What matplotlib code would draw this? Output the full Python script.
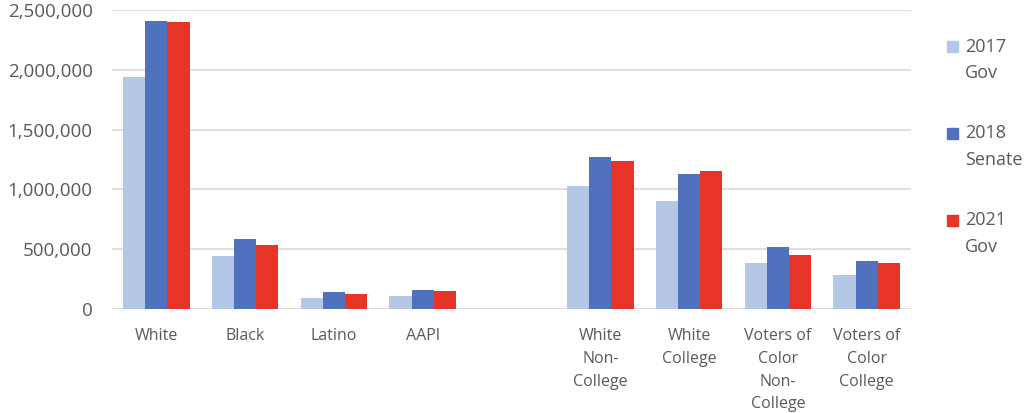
import matplotlib
matplotlib.use("Agg")
import matplotlib.pyplot as plt
from matplotlib.patches import Rectangle
from matplotlib.ticker import FuncFormatter
import numpy as np

categories = ["White", "Black", "Latino", "AAPI",
              "White\nNon-\nCollege", "White\nCollege",
              "Voters of\nColor\nNon-\nCollege", "Voters of\nColor\nCollege"]
series_names = ["2017\nGov", "2018\nSenate", "2021\nGov"]
v2017 = [1937000, 446000, 94000, 109000, 1026000, 900000, 382000, 287000]
v2018 = [2408000, 588000, 142000, 156000, 1271000, 1126000, 516000, 399000]
v2021 = [2402000, 535000, 128000, 148000, 1240000, 1154000, 452000, 387000]
yticks = [0, 500000, 1000000, 1500000, 2000000, 2500000]

colors = ["#B4C7E7", "#4F71BE", "#E83426"]
text_color = "#595959"

fig = plt.figure(figsize=(10.24, 4.13), dpi=100)
ax = fig.add_axes([112/1024, 1-309/413, (911-112)/1024, (309-10)/413])

# slot positions: empty slot between AAPI and the education groups
x = np.array([0, 1, 2, 3, 5, 6, 7, 8], dtype=float)
w = 0.25
for i, (vals, c) in enumerate(zip([v2017, v2018, v2021], colors)):
    ax.bar(x + (i - 1) * w, vals, width=w, color=c, zorder=3)

ax.set_xlim(-0.5, 8.5)
ax.set_ylim(0, 2500000)
ax.set_yticks(yticks)
ax.yaxis.set_major_formatter(FuncFormatter(lambda v, p: f"{int(v):,}"))
ax.grid(axis="y", color="#D9D9D9", linewidth=1.2, zorder=0)
for s in ax.spines.values():
    s.set_visible(False)
ax.tick_params(axis="y", length=0, pad=14, labelsize=13.5, labelcolor=text_color)
for lab in ax.get_yticklabels():
    lab.set_family(["Open Sans", "DejaVu Sans"])
ax.set_xticks(x)
ax.set_xticklabels(categories, linespacing=1.55, family=["Open Sans", "DejaVu Sans"],
                   fontsize=11.5, color=text_color)
ax.tick_params(axis="x", length=0, pad=14)

# manual legend (square aligned with first line of each label)
for i, (name, c) in enumerate(zip(series_names, colors)):
    yc = 46.7 + i * 86.7
    fig.add_artist(Rectangle((947/1024, 1 - (yc + 5.5)/413), 11/1024, 11/413,
                             transform=fig.transFigure, color=c))
    first, second = name.split("\n")
    fig.text(965/1024, 1 - yc/413, first, ha="left", va="center", fontsize=13,
             color=text_color, family=["Open Sans", "DejaVu Sans"])
    fig.text(965/1024, 1 - (yc + 26.5)/413, second, ha="left", va="center", fontsize=13,
             color=text_color, family=["Open Sans", "DejaVu Sans"])

fig.savefig("out.png", dpi=100)
